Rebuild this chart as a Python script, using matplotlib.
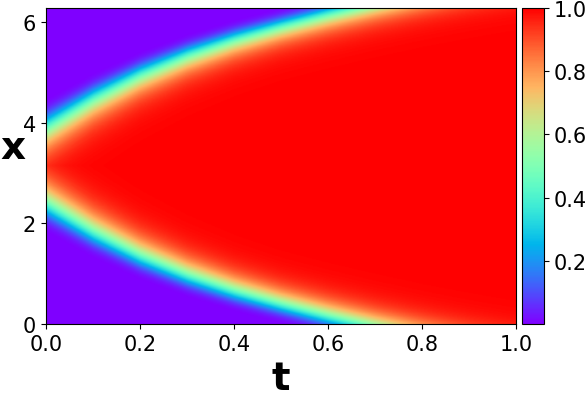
import numpy as np
import matplotlib
matplotlib.use("Agg")
import matplotlib.pyplot as plt

# front half-width |x - pi| (where u ~ 0.4) and front thickness
t_front = [0.0, 0.1, 0.2, 0.3, 0.4, 0.5, 0.6, 0.7, 0.8, 0.9, 1.0]
half_width = [0.82, 1.38, 1.85, 2.23, 2.54, 2.80, 3.04, 3.26, 3.46, 3.64, 3.80]
front_scale = [0.3, 0.27, 0.245, 0.225, 0.21, 0.2, 0.2, 0.2, 0.2, 0.2, 0.2]
u_min, u_max = 0.002, 1.0

t = np.linspace(0, 1, 400)
x = np.linspace(0, 2 * np.pi, 400)
T, X = np.meshgrid(t, x)
W = np.interp(T, t_front, half_width)
D = np.interp(T, t_front, front_scale)
s = (W - np.abs(X - np.pi)) / D
U = np.exp(-np.exp(-s))

fig = plt.figure(figsize=(5.86, 4.02), dpi=100)
ax = fig.add_axes([0.078, 0.1915, 0.803, 0.787])
cax = fig.add_axes([0.890, 0.1915, 0.039, 0.787])

im = ax.imshow(U, extent=[0, 1, 0, 2 * np.pi], origin="lower", aspect="auto",
               cmap="rainbow", vmin=u_min, vmax=u_max, interpolation="bilinear")
ax.set_xticks([0.0, 0.2, 0.4, 0.6, 0.8, 1.0])
ax.set_yticks([0, 2, 4, 6])
ax.tick_params(labelsize=15)
ax.set_xlabel("t", fontsize=28, fontweight="bold")
ax.set_ylabel("x", fontsize=28, fontweight="bold", rotation=0, labelpad=7)

cb = fig.colorbar(im, cax=cax)
cb.set_ticks([0.2, 0.4, 0.6, 0.8, 1.0])
cb.ax.tick_params(labelsize=15)

fig.savefig("out.png", dpi=100)
